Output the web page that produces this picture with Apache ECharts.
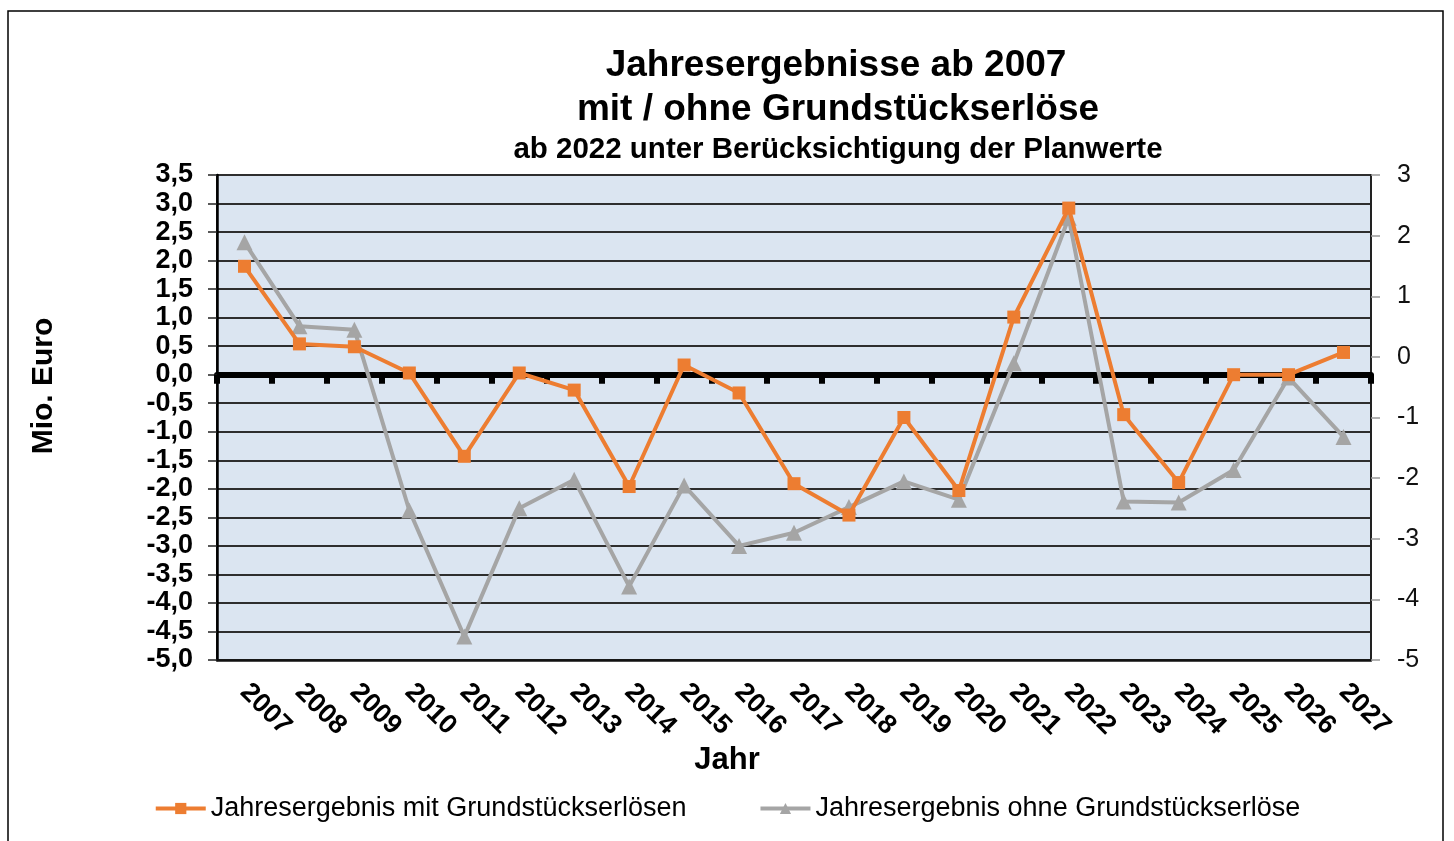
<!DOCTYPE html>
<html>
<head>
<meta charset="utf-8">
<script src="https://cdn.jsdelivr.net/npm/echarts@6/dist/echarts.min.js"></script>
<style>
html,body{margin:0;padding:0;background:#fff;}
#chart{width:1454px;height:841px;}
</style>
</head>
<body>
<div id="chart"></div>
<script>
var years = ['2007','2008','2009','2010','2011','2012','2013','2014','2015','2016','2017','2018','2019','2020','2021','2022','2023','2024','2025','2026','2027'];
var mitGrund = [1.90, 0.54, 0.49, 0.03, -1.43, 0.03, -0.27, -1.96, 0.17, -0.32, -1.91, -2.46, -0.75, -2.03, 1.01, 2.92, -0.70, -1.89, 0.00, 0.00, 0.39];
var ohneGrund = [2.32, 0.85, 0.79, -2.38, -4.59, -2.34, -1.84, -3.71, -1.94, -3.00, -2.77, -2.32, -1.87, -2.19, 0.20, 2.75, -2.22, -2.24, -1.67, -0.05, -1.09];
var seriesNames = ['Jahresergebnis mit Grundstückserlösen', 'Jahresergebnis ohne Grundstückserlöse'];
var titleLines = ['Jahresergebnisse ab 2007', 'mit / ohne Grundstückserlöse', 'ab 2022 unter Berücksichtigung der Planwerte'];

var FONT = 'Liberation Sans, Arial, sans-serif';
var chart = echarts.init(document.getElementById('chart'));
var option = {
  animation: false,
  backgroundColor: '#fff',
  title: [
    {text: titleLines[0], left: 831, top: 41, textAlign: 'center',
     textStyle: {fontFamily: FONT, fontSize: 37, fontWeight: 'bold', color: '#000', lineHeight: 40}},
    {text: titleLines[1], left: 833, top: 85, textAlign: 'center',
     textStyle: {fontFamily: FONT, fontSize: 37, fontWeight: 'bold', color: '#000', lineHeight: 40}},
    {text: titleLines[2], left: 833, top: 129, textAlign: 'center',
     textStyle: {fontFamily: FONT, fontSize: 29.5, fontWeight: 'bold', color: '#000', lineHeight: 32}}
  ],
  graphic: [
    {type: 'rect', shape: {x: 8, y: 11, width: 1435, height: 900}, style: {fill: 'none', stroke: '#000', lineWidth: 1.5}, z: -10, silent: true},
    {type: 'text', x: 44, y: 386, rotation: Math.PI / 2,
     style: {text: 'Mio. Euro', fontFamily: FONT, fontSize: 30, fontWeight: 'bold', fill: '#000', textAlign: 'center', textVerticalAlign: 'middle'}},
    {type: 'text', x: 727, y: 760,
     style: {text: 'Jahr', fontFamily: FONT, fontSize: 31, fontWeight: 'bold', fill: '#000', textAlign: 'center', textVerticalAlign: 'middle'}}
  ],
  legend: {
    left: 'center', top: 790,
    itemWidth: 50, itemHeight: 14, itemGap: 72,
    lineStyle: {width: 4},
    textStyle: {fontFamily: FONT, fontSize: 27, color: '#000'},
    data: seriesNames
  },
  grid: {
    left: 217, top: 175, width: 1154, height: 485,
    show: true, backgroundColor: '#dbe5f1', borderColor: '#1a1a1a', borderWidth: 2
  },
  xAxis: [
    {type: 'category', data: years, boundaryGap: true, position: 'bottom',
     axisLine: {show: true, onZero: true, onZeroAxisIndex: 0, lineStyle: {color: '#000', width: 6}},
     axisTick: {show: true, interval: 0, length: 9, lineStyle: {color: '#000', width: 6}},
     axisLabel: {show: false}, splitLine: {show: false}},
    {type: 'category', data: years, boundaryGap: true, position: 'bottom',
     axisLine: {show: true, onZero: false, lineStyle: {color: '#111', width: 2.5}},
     axisTick: {show: false},
     axisLabel: {interval: 0, rotate: -45, margin: 28, fontFamily: FONT, fontSize: 27, fontWeight: 'bold', color: '#000'},
     splitLine: {show: false}}
  ],
  yAxis: [
    {type: 'value', min: -5, max: 3.5, interval: 0.5, position: 'left',
     axisLine: {show: true, lineStyle: {color: '#000', width: 2.5}},
     axisTick: {show: true, length: 9, lineStyle: {color: '#222', width: 1.5}},
     axisLabel: {margin: 24, fontFamily: FONT, fontSize: 27, fontWeight: 'bold', color: '#000',
       formatter: function (v) { return v.toFixed(1).replace('.', ','); }},
     splitLine: {show: true, lineStyle: {color: '#2e2e2e', width: 2}}},
    {type: 'value', min: -5, max: 3, interval: 1, position: 'right', alignTicks: false,
     axisLine: {show: true, lineStyle: {color: '#222', width: 2}},
     axisTick: {show: true, length: 9, lineStyle: {color: '#999', width: 1.5}},
     axisLabel: {margin: 26, fontFamily: FONT, fontSize: 25, color: '#111'},
     splitLine: {show: false}}
  ],
  series: [
    {name: seriesNames[0], type: 'line', xAxisIndex: 0, yAxisIndex: 0, data: mitGrund,
     symbol: 'rect', symbolSize: 13, z: 4,
     lineStyle: {color: '#ED7D31', width: 4}, itemStyle: {color: '#ED7D31'}},
    {name: seriesNames[1], type: 'line', xAxisIndex: 0, yAxisIndex: 0, data: ohneGrund,
     symbol: 'triangle', symbolSize: 16, z: 3,
     lineStyle: {color: '#A5A5A5', width: 4}, itemStyle: {color: '#A5A5A5'}}
  ]
};
chart.setOption(option);
</script>
</body>
</html>
